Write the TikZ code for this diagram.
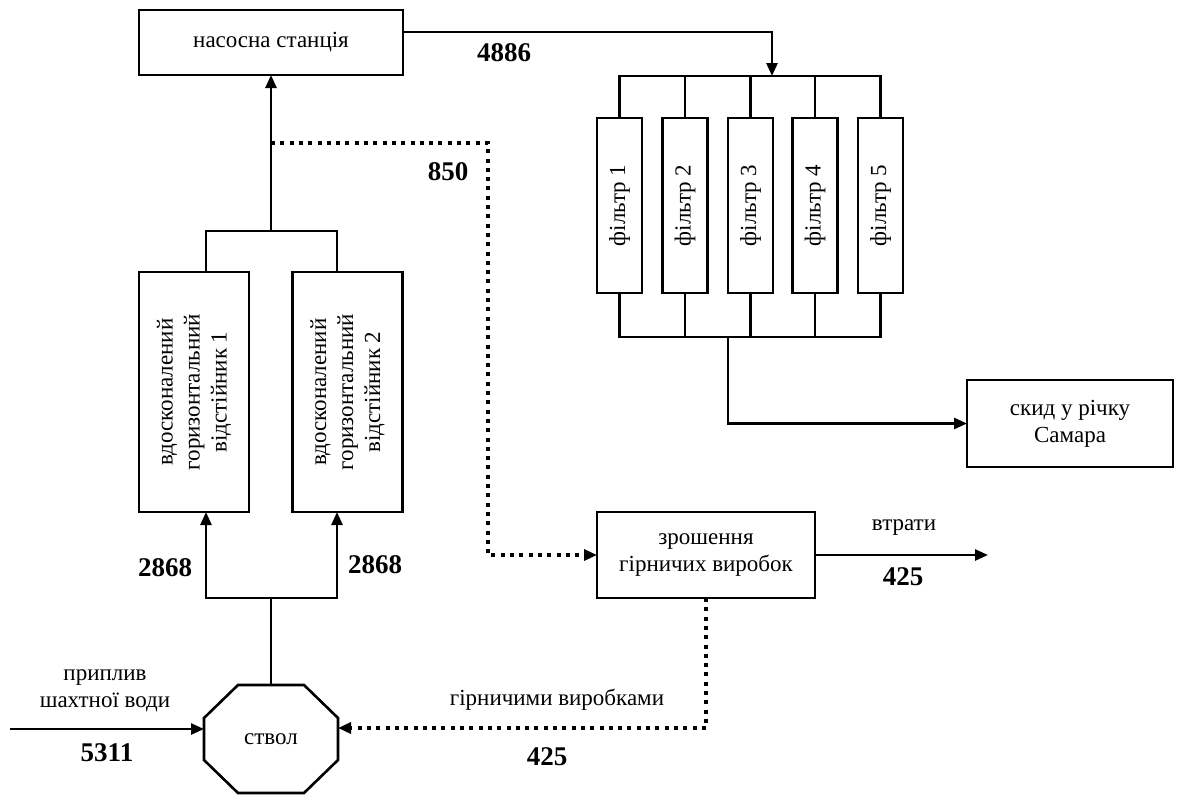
\documentclass[tikz,border=0pt]{standalone}
\usepackage{fontspec}
\setmainfont{Liberation Serif}
\usetikzlibrary{arrows.meta}
\begin{document}
\begin{tikzpicture}[x=1pt, y=-1pt, font=\fontsize{23}{27}\selectfont]
    \tikzstyle{box_style} = [draw=black, line width=2.6pt, rectangle, fill=white, align=center, inner sep=0pt, outer sep=0pt]
    \tikzstyle{line_style} = [black, line width=2.6pt]
    \tikzstyle{arrow_style} = [->, black, line width=2.6pt, >={Triangle[length=13pt,width=11pt]}]
    \tikzstyle{dot_style} = [black, line width=4pt, dash pattern=on 4pt off 5.3pt]
    \tikzstyle{dot_arrow_style} = [dot_style, ->, >={Triangle[length=13pt,width=11pt]}]
    \tikzstyle{num_style} = [font=\fontsize{27}{30}\selectfont\bfseries]

    \useasboundingbox (0,0) rectangle (1184,796);

    \node[box_style, minimum width=264pt, minimum height=65pt] (pump) at (271,42.5) {насосна станція};
    \node[box_style, rotate=90, minimum width=240pt, minimum height=110pt] (s1) at (194,392) {вдосконалений\\горизонтальний\\відстійник 1};
    \node[box_style, rotate=90, minimum width=240pt, minimum height=110pt] (s2) at (347.5,392) {вдосконалений\\горизонтальний\\відстійник 2};
    \node[box_style, minimum width=218pt, minimum height=86pt] (irr) at (706,555) {зрошення\\гірничих виробок};
    \node[box_style, minimum width=206pt, minimum height=87pt] (river) at (1070,423.5) {скид у річку\\Самара};

    % octagon
    \node[minimum width=134pt, minimum height=108pt, inner sep=0pt, outer sep=0pt] (shaft) at (271,739) {ствол};
    \draw[line_style] ([xshift=34pt]shaft.north west) -- ([xshift=-34pt]shaft.north east) -- ([yshift=-33pt]shaft.north east) -- ([yshift=33pt]shaft.south east) -- ([xshift=-34pt]shaft.south east) -- ([xshift=34pt]shaft.south west) -- ([yshift=33pt]shaft.south west) -- ([yshift=-33pt]shaft.north west) -- cycle;

    \coordinate (bus_top) at (0,76);
    \coordinate (bus_bot) at (0,337);
    \coordinate (f_in) at (772,76);
    \coordinate (f_out) at (728,337);
    \coordinate (top_l) at (206,231);
    \coordinate (top_r) at (337,231);
    \coordinate (top_m) at (271,231);
    \coordinate (bot_l) at (206,598);
    \coordinate (bot_r) at (337,598);
    \coordinate (in_start) at (10,729);
    \coordinate (ret) at (706,728);
    \coordinate (br) at (271,143);
    \coordinate (br_c) at (488,143);
    \coordinate (loss) at (988,555);

    % filters
    \foreach \i/\x in {1/619.5, 2/685, 3/750.5, 4/815, 5/880.5}
    {
        \node[box_style, rotate=90, minimum width=175pt, minimum height=45pt] (f\i) at (\x,205.5) {фільтр \i};
        \draw[line_style] (f\i.east) -- (f\i.east |- bus_top);
        \draw[line_style] (f\i.west) -- (f\i.west |- bus_bot);
    }
    \draw[line_style] (f1.east) -- (f1.east |- bus_top) -- (f5.east |- bus_top) -- (f5.east);
    \draw[line_style] (f1.west) -- (f1.west |- bus_bot) -- (f5.west |- bus_bot) -- (f5.west);

    \draw[arrow_style] ([yshift=10.5pt]pump.east) -| (f_in);
    \draw[arrow_style] (f_out) |- (river.west);

    \draw[arrow_style] (s1.east -| top_l) |- (top_m) -- (pump.south);
    \draw[line_style] (s2.east -| top_r) |- (top_m);
    \draw[arrow_style] (shaft.north) |- (bot_l) -- (s1.west -| bot_l);
    \draw[arrow_style] (shaft.north) |- (bot_r) -- (s2.west -| bot_r);

    \draw[arrow_style] (in_start) -- (in_start -| shaft.west);
    \draw[arrow_style] (irr.east) -- (loss);
    \draw[dot_arrow_style] (br) -- (br_c) |- (irr.west);
    \draw[dot_arrow_style] (irr.south) -- (ret) -- (ret -| shaft.east);

    % labels
    \node[num_style] (n4886) at (504,53) {4886};
    \node[num_style] (n850) at (448,172) {850};
    \node[num_style] (n2868a) at (165,568) {2868};
    \node[num_style] (n2868b) at (375,565) {2868};
    \node (loss_txt) at (904,528) {втрати};
    \node[num_style] (n425a) at (903,577) {425};
    \node[align=center] (in_txt) at (105,691) {приплив\\шахтної води};
    \node[num_style] (n5311) at (107,753) {5311};
    \node (ret_txt) at (557,700) {гірничими виробками};
    \node[num_style] (n425b) at (547,757) {425};
\end{tikzpicture}
\end{document}
